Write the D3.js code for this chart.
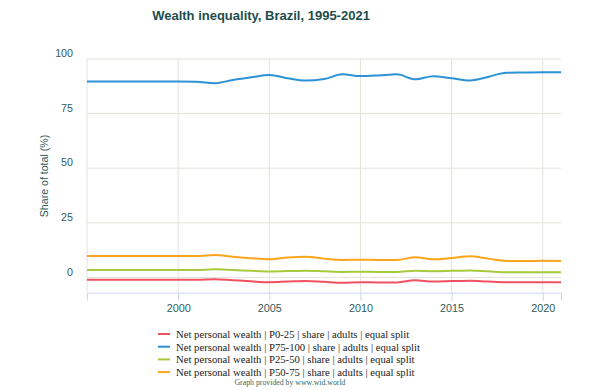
<!DOCTYPE html>
<html><head><meta charset="utf-8">
<script src="https://cdn.jsdelivr.net/npm/d3@7/dist/d3.min.js"></script>
<style>body{margin:0;background:#fff}svg{display:block}</style>
</head><body>
<svg id="chart" width="600" height="390"></svg>
<script>
const years = d3.range(1995, 2022);
const seriesNames = [
  "Net personal wealth | P0-25 | share | adults | equal split",
  "Net personal wealth | P75-100 | share | adults | equal split",
  "Net personal wealth | P25-50 | share | adults | equal split",
  "Net personal wealth | P50-75 | share | adults | equal split"
];
const seriesColors = ["#ef5160", "#2b93d5", "#a8c93d", "#fba51c"];
const p0_25 =   [-1.1,-1.1,-1.1,-1.1,-1.1,-1.1,-1.1,-0.8,-1.3,-1.8,-2.2,-1.9,-1.6,-2.0,-2.4,-2.2,-2.3,-2.3,-1.3,-1.9,-1.7,-1.5,-1.9,-2.2,-2.2,-2.2,-2.2];
const p75_100 = [89.7,89.7,89.7,89.7,89.7,89.7,89.6,88.9,90.4,91.6,92.7,91.2,90.1,90.8,93.0,92.2,92.5,93.0,90.7,92.1,91.2,90.2,91.8,93.7,93.8,93.9,93.9];
const p25_50 =  [3.4,3.4,3.4,3.4,3.4,3.4,3.4,3.7,3.4,3.0,2.7,2.9,3.1,2.8,2.5,2.6,2.5,2.5,3.1,2.8,3.0,3.2,2.8,2.4,2.4,2.4,2.4];
const p50_75 =  [9.8,9.8,9.8,9.8,9.8,9.8,9.8,10.3,9.5,8.8,8.3,9.1,9.5,8.6,8.0,8.1,8.0,8.0,9.2,8.3,8.9,9.7,8.6,7.5,7.5,7.6,7.5];
const seriesValues = [p0_25, p75_100, p25_50, p50_75];
const yTicks = [0, 25, 50, 75, 100];
const xTicks = [2000, 2005, 2010, 2015, 2020];
const xGrid = [1995, 2000, 2005, 2010, 2015, 2020];

const svg = d3.select("#chart");
const x = d3.scaleLinear().domain([1995, 2021]).range([87, 561]);
const y = d3.scaleLinear().domain([-7, 100]).range([292.7, 59]);
const tickColor = "#2f5b59";
const gridColor = "#e4e3da";

svg.append("text").attr("x", 261).attr("y", 20).attr("text-anchor", "middle")
  .attr("font-family", "Liberation Sans, Arial, sans-serif").attr("font-weight", "bold")
  .attr("font-size", 13).attr("fill", "#1e4d4b").text("Wealth inequality, Brazil, 1995-2021");

// horizontal grid
svg.append("g").selectAll("line").data(yTicks).join("line")
  .attr("x1", x(1995)).attr("x2", x(2021)).attr("y1", d => y(d)).attr("y2", d => y(d))
  .attr("stroke", gridColor).attr("stroke-width", 1);
// vertical grid
svg.append("g").selectAll("line").data(xGrid).join("line")
  .attr("x1", d => x(d)).attr("x2", d => x(d)).attr("y1", y(100)).attr("y2", y(-7))
  .attr("stroke", gridColor).attr("stroke-width", 1);

// x axis
const xAxis = d3.axisBottom(x).tickValues(xTicks).tickFormat(d3.format("d")).tickSize(8).tickPadding(4);
const gx = svg.append("g").attr("transform", `translate(0,${y(-7)})`).call(xAxis);
gx.select(".domain").attr("stroke", "#ccd6eb");
gx.selectAll(".tick line").attr("stroke", "#ccd6eb");
gx.selectAll("text").attr("font-family", "Liberation Sans, Arial, sans-serif").attr("font-size", 10.8).attr("fill", tickColor);

// y axis labels
const yAxis = d3.axisLeft(y).tickValues(yTicks).tickSize(0).tickPadding(14);
const gy = svg.append("g").attr("transform", `translate(${x(1995)},0)`).call(yAxis);
gy.select(".domain").remove();
gy.selectAll("text").attr("font-family", "Liberation Sans, Arial, sans-serif").attr("font-size", 10.7)
  .attr("fill", tickColor).attr("dy", "-0.22em");

svg.append("text").attr("transform", "translate(47.5,176) rotate(-90)").attr("text-anchor", "middle")
  .attr("font-family", "Liberation Sans, Arial, sans-serif").attr("font-size", 10.6).attr("fill", tickColor)
  .text("Share of total (%)");

const line = d3.line().x((d, i) => x(years[i])).y(d => y(d)).curve(d3.curveMonotoneX);
svg.append("g").selectAll("path").data(seriesValues).join("path")
  .attr("d", d => line(d)).attr("fill", "none")
  .attr("stroke", (d, i) => seriesColors[i]).attr("stroke-width", 2);

const lg = svg.append("g").selectAll("g").data(seriesNames).join("g")
  .attr("transform", (d, i) => `translate(0,${334 + i * 12.7})`);
lg.append("line").attr("x1", 158).attr("x2", 170).attr("y1", 0).attr("y2", 0)
  .attr("stroke", (d, i) => seriesColors[i]).attr("stroke-width", 2);
lg.append("text").attr("x", 176).attr("y", 4).attr("font-family", "Liberation Serif, Times New Roman, serif")
  .attr("font-size", 10.7).attr("fill", "#222").text(d => d);

svg.append("text").attr("x", 290).attr("y", 385).attr("text-anchor", "middle")
  .attr("font-family", "Liberation Serif, Times New Roman, serif").attr("font-size", 7.8)
  .attr("fill", "#2c6a66").text("Graph provided by www.wid.world");
</script>
</body></html>
